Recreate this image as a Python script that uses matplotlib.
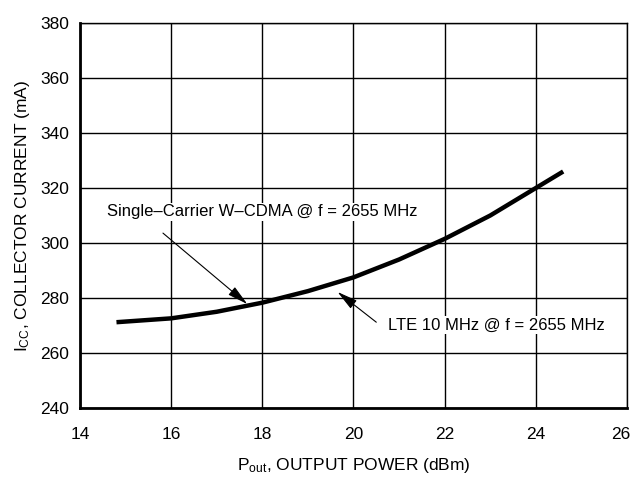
import matplotlib
matplotlib.use('Agg')
import matplotlib.pyplot as plt
import matplotlib.transforms as mtransforms

fam = 'Liberation Sans'
plt.rcParams['font.family'] = [fam, 'DejaVu Sans']
plt.rcParams['mathtext.fontset'] = 'custom'
plt.rcParams['mathtext.rm'] = fam
plt.rcParams['mathtext.it'] = fam
plt.rcParams['font.size'] = 12.5

pout = [14.8, 16, 17, 18, 19, 20, 21, 22, 23, 24, 24.6]
icc = [271.2, 272.6, 275.0, 278.3, 282.5, 287.5, 294.0, 301.5, 310.0, 320.0, 326.0]

xticks = [14, 16, 18, 20, 22, 24, 26]
yticks = [240, 260, 280, 300, 320, 340, 360, 380]

fig = plt.figure(figsize=(6.34, 4.79), dpi=100)
ax = fig.add_axes([80/634, 1 - 408/479, 547/634, 385/479])

ax.plot(pout, icc, color='black', linewidth=3.2, solid_capstyle='butt', zorder=3)

ax.set_xlim(14, 26)
ax.set_ylim(240, 380)
ax.set_xticks(xticks)
ax.set_yticks(yticks)
ax.grid(True, color='black', linewidth=1)
ax.tick_params(axis='x', length=0, pad=14, labelsize=12.5)
ax.tick_params(axis='y', length=0, pad=8, labelsize=12.5)
for s in ['left', 'bottom']:
    ax.spines[s].set_linewidth(2)
for s in ['top', 'right']:
    ax.spines[s].set_linewidth(1)

# last x tick label sits a little inside the figure edge
fig.canvas.draw()
lab = ax.get_xticklabels()[-1]
lab.set_transform(lab.get_transform() + mtransforms.ScaledTranslation(-6/100, 0, fig.dpi_scale_trans))

ax.set_xlabel(r'P$_{\mathrm{out}}$, OUTPUT POWER (dBm)', labelpad=10)
ax.set_ylabel(r'I$_{\mathrm{CC}}$, COLLECTOR CURRENT (mA)', labelpad=6)

arrow = dict(arrowstyle='-|>,head_length=0.9,head_width=0.22', color='black', lw=0.8,
             mutation_scale=14, shrinkA=0, shrinkB=0)
box = dict(boxstyle='square,pad=0.1', fc='white', ec='none')

ax.text(14.6, 311.3, 'Single\u2013Carrier W\u2013CDMA @ f = 2655 MHz', ha='left', va='center',
        fontsize=12, bbox=box, zorder=4)
ax.annotate('', xy=(17.67, 277.8), xytext=(15.82, 303.6), arrowprops=arrow, zorder=4)

ax.text(20.75, 270.2, 'LTE 10 MHz @ f = 2655 MHz', ha='left', va='center',
        fontsize=12, bbox=box, zorder=4)
ax.annotate('', xy=(19.65, 282.2), xytext=(20.5, 271.2), arrowprops=arrow, zorder=4)

fig.savefig('out.png', dpi=100)
